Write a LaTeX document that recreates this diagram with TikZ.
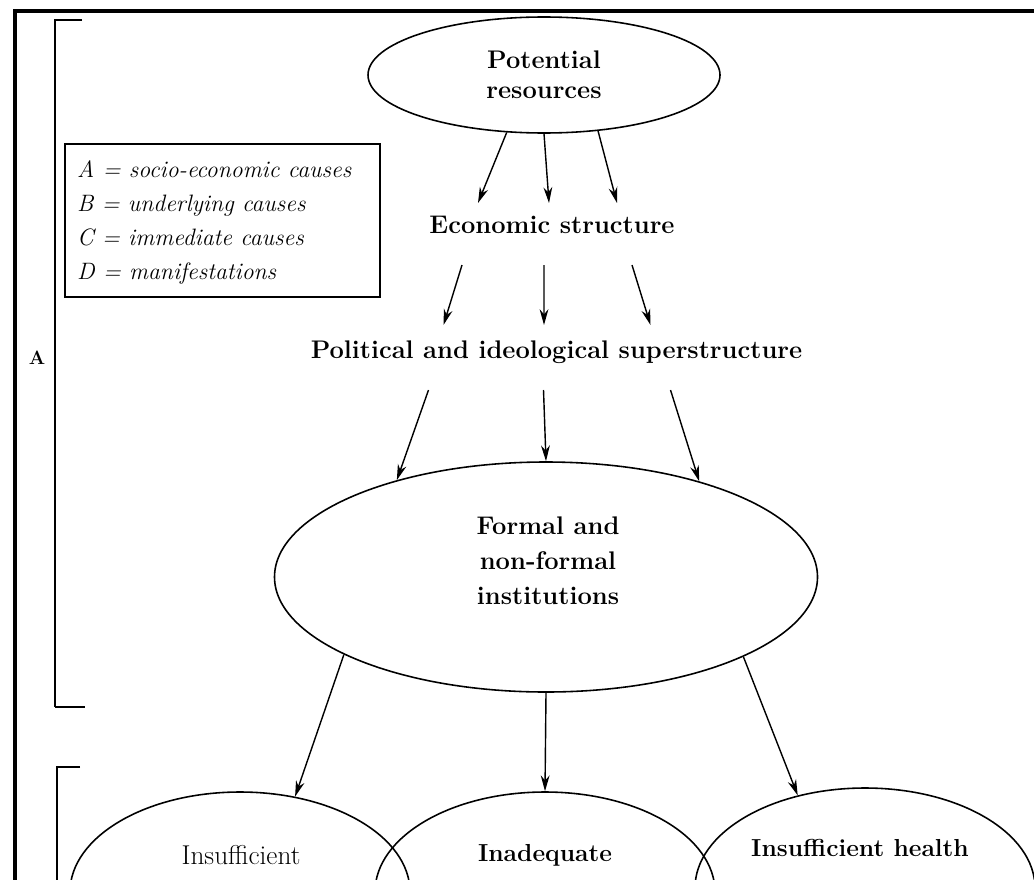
\documentclass[tikz,border=0pt]{standalone}
\usetikzlibrary{calc, shapes.geometric, arrows.meta}

\begin{document}
\begin{tikzpicture}[
    >={Stealth[length=9pt,width=5pt]},
    causeEllipse/.style={draw, ellipse, line width=0.9pt, inner sep=0pt},
    causeArrow/.style={->, line width=0.8pt},
    bigLabel/.style={font=\fontsize{14.5}{17}\selectfont\bfseries, align=center},
    lowLabel/.style={font=\fontsize{14}{17}\selectfont\bfseries},
    keyLine/.style={anchor=base west, font=\fontsize{13.5}{16}\selectfont\itshape}
]
    % Page size (1 px of the scan = 0.02 cm)
    \useasboundingbox (0,0) rectangle (20.68,-17.58);
    \clip (0,0) rectangle (20.68,-17.58);

    % Draw frame
    \draw[line width=2.4pt] (0.30,-17.70) -- (0.30,-0.22) -- (20.80,-0.22);

    % Draw brackets for A and B
    \draw[line width=0.6pt] (1.64,-0.40) -- (1.10,-0.40) -- (1.10,-14.14);
    \draw[line width=1.4pt] (1.10,-14.14) -- (1.70,-14.14);
    \node[font=\bfseries\fontsize{11}{13}\selectfont] (labelA) at (0.74,-7.16) {A};
    \draw[line width=0.6pt] (1.60,-15.34) -- (1.14,-15.34) -- (1.14,-17.70);

    % Draw key
    \draw[line width=0.9pt] (1.30,-2.88) rectangle (7.60,-5.94);
    \foreach \k/\txt [count=\i] in {A/socio-economic causes, B/underlying causes,
        C/immediate causes, D/manifestations}
        \node[keyLine] (key\k) at (1.42,{-3.54-0.68*(\i-1)}) {\k\ = \txt};

    % Draw cause nodes
    \node[causeEllipse, bigLabel, minimum width=7.04cm, minimum height=2.32cm]
        (pot) at (10.88,-1.50) {Potential\\resources};
    \node[bigLabel] (econ) at (11.04,-4.50) {Economic structure};
    \node[bigLabel] (pol) at (11.13,-7.04) {Political and ideological superstructure};
    \node[causeEllipse, minimum width=10.86cm, minimum height=4.60cm]
        (inst) at (10.92,-11.54) {};
    \node[bigLabel, font=\fontsize{14.5}{19.8}\selectfont\bfseries]
        (instText) at (10.96,-11.22) {Formal and\\non-formal\\institutions};

    % Draw manifestation ellipses (cut by the page)
    \node[causeEllipse, minimum width=6.8cm, minimum height=4cm] (food) at (4.80,-17.84) {};
    \node[causeEllipse, minimum width=6.8cm, minimum height=4cm] (care) at (10.90,-17.84) {};
    \node[causeEllipse, minimum width=6.8cm, minimum height=4cm] (health) at (17.30,-17.76) {};
    \node[font=\fontsize{15.5}{18}\selectfont] (foodText) at (4.82,-17.10) {Insufficient};
    \node[lowLabel] (careText) at (10.90,-17.10) {Inadequate};
    \node[lowLabel] (healthText) at (17.20,-16.96) {Insufficient health};

    % Draw arrows
    \foreach \a/\dx in {237/-1.48, 270/-0.06, 314/1.30}
        \draw[causeArrow] (pot.\a) -- ($(econ)+(\dx,0.44)$);
    \foreach \sx/\ex in {-1.80/-2.26, -0.16/-0.25, 1.60/1.88}
        \draw[causeArrow] ($(econ)+(\sx,-0.80)$) -- ($(pol)+(\ex,0.54)$);
    \foreach \sx/\a in {-2.56/147, -0.26/90, 2.28/32}
        \draw[causeArrow] ($(pol)+(\sx,-0.76)$) -- (inst.\a);
    \draw[causeArrow] (inst.201.7) -- (food.60);
    \draw[causeArrow] (inst.south) -- (care.north);
    \draw[causeArrow] (inst.338.9) -- (health.126);

\end{tikzpicture}
\end{document}
